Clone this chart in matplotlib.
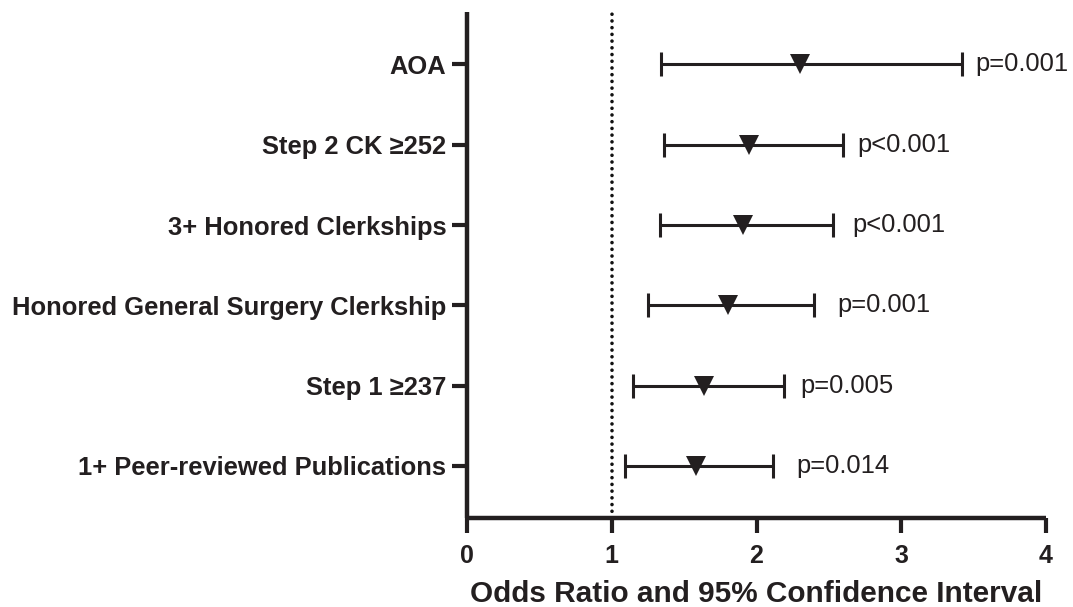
import matplotlib
matplotlib.use("Agg")
import matplotlib.pyplot as plt

# Data (top to bottom)
categories = [
    "AOA",
    "Step 2 CK \u2265252",
    "3+ Honored Clerkships",
    "Honored General Surgery Clerkship",
    "Step 1 \u2265237",
    "1+ Peer-reviewed Publications",
]
odds_ratio = [2.30, 1.95, 1.91, 1.80, 1.64, 1.58]
ci_lower = [1.34, 1.36, 1.33, 1.25, 1.15, 1.09]
ci_upper = [3.42, 2.60, 2.53, 2.40, 2.19, 2.115]
p_labels = ["p=0.001", "p<0.001", "p<0.001", "p=0.001", "p=0.005", "p=0.014"]
p_text_x = [3.515, 2.70, 2.66, 2.555, 2.30, 2.275]
x_ticks = [0, 1, 2, 3, 4]

plt.rcParams['font.family'] = ['Liberation Sans', 'DejaVu Sans']
ink = '#231f20'

fig = plt.figure(figsize=(10.73, 6.07), dpi=100)
ax = fig.add_axes([467/1073, 89/607, (1046-467)/1073, (595.5-89)/607])

n = len(categories)
ys = [n - i for i in range(n)]

ax.axvline(1, color='#111111', lw=2.6, linestyle=(0, (0.01, 1.85)),
           dash_capstyle='round', zorder=1)

xerr = [[o - l for o, l in zip(odds_ratio, ci_lower)],
        [u - o for o, u in zip(odds_ratio, ci_upper)]]
ax.errorbar(odds_ratio, ys, xerr=xerr, fmt='none', ecolor=ink,
            elinewidth=2.2, capsize=8.6, capthick=2.2, zorder=2)
ax.plot(odds_ratio, ys, linestyle='none', marker='v', color=ink,
        markersize=14, markeredgewidth=0, zorder=3)

for y, lab, tx in zip(ys, p_labels, p_text_x):
    ax.text(tx, y, lab, fontsize=18.4, color=ink, va='center', ha='left')

ax.set_xlim(0, 4)
ax.set_ylim(0.35, 6.66)
ax.set_xticks(x_ticks)
ax.set_xticklabels([str(t) for t in x_ticks], fontsize=18, fontweight='bold', color=ink)
ax.set_yticks(ys)
ax.set_yticklabels(categories, fontsize=18.4, fontweight='bold', color=ink)

for s in ['top', 'right']:
    ax.spines[s].set_visible(False)
for s in ['left', 'bottom']:
    ax.spines[s].set_linewidth(3.2)
    ax.spines[s].set_color(ink)
    ax.spines[s].set_capstyle('butt')

ax.tick_params(axis='both', length=11, width=3, color=ink)
ax.tick_params(axis='x', pad=8)
ax.tick_params(axis='y', pad=4)

ax.set_xlabel("Odds Ratio and 95% Confidence Interval", fontsize=21.4,
              fontweight='bold', color=ink, labelpad=8)

fig.savefig("out.png", dpi=100)
